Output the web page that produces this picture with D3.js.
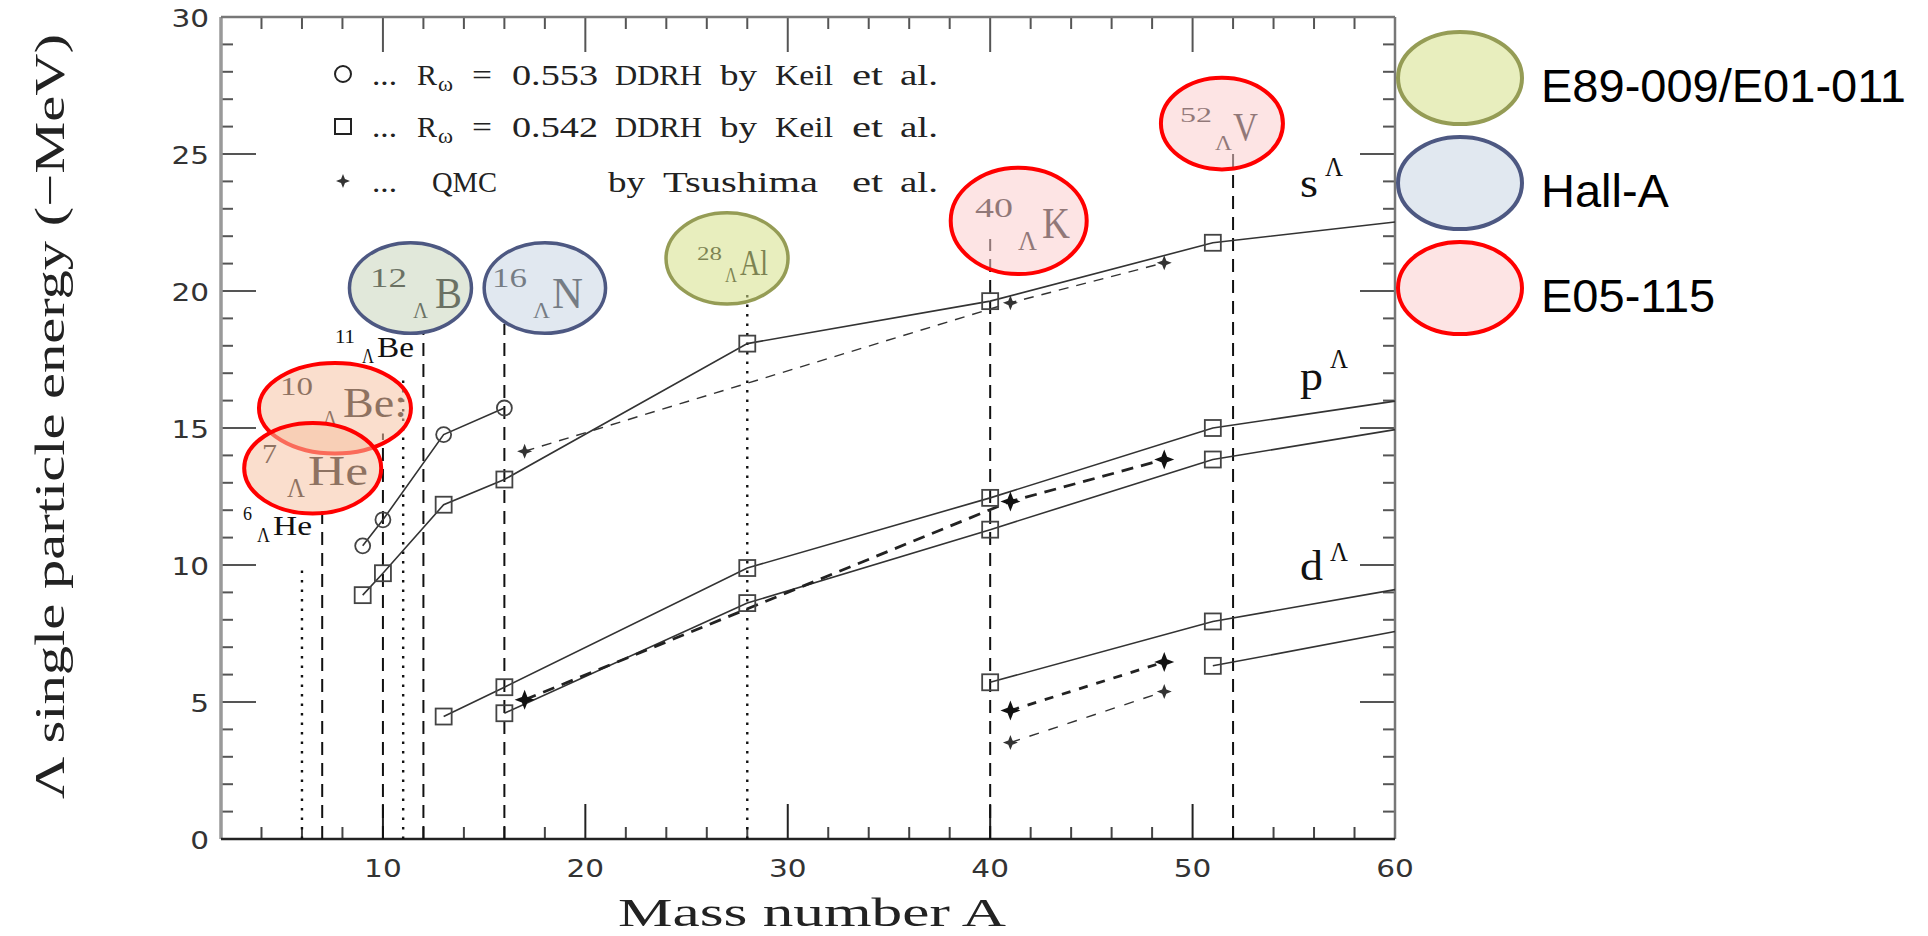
<!DOCTYPE html>
<html><head><meta charset="utf-8">
<script src="https://cdn.jsdelivr.net/npm/d3@7"></script>
<style>body{margin:0;background:#fff}</style>
</head><body><svg id="c" width="1928" height="936"></svg>
<script>
// ================= DATA =================
const xTickLabels = [10, 20, 30, 40, 50, 60];
const yTickLabels = [0, 5, 10, 15, 20, 25, 30];
// DDRH, R_w = 0.553 (circles), s-state
const circS = [[9, 10.7], [10, 11.65], [13, 14.76], [16, 15.73]];
// DDRH, R_w = 0.542 (squares); A=60 entries are line continuations to the frame
const sqS  = [[9, 8.9], [10, 9.7], [13, 12.2], [16, 13.12], [28, 18.08], [40, 19.63], [51, 21.76], [60, 22.52]];
const sqP1 = [[13, 4.47], [16, 5.54], [28, 9.89], [40, 12.45], [51, 15.0], [60, 15.98]];
const sqP2 = [[16, 4.59], [28, 8.61], [40, 11.29], [51, 13.85], [60, 14.94]];
const sqD1 = [[40, 5.72], [51, 7.94], [60, 9.1]];
const sqD2 = [[51, 6.32], [60, 7.57]];
// QMC by Tsushima et al. (stars)
const qmcS  = [[17, 14.15], [41, 19.57], [48.6, 21.03]];
const qmcP  = [[17, 5.08], [41, 12.32], [48.6, 13.85]];
const qmcD1 = [[41, 4.69], [48.6, 6.46]];
const qmcD2 = [[41, 3.52], [48.6, 5.38]];
// vertical reference lines for hypernuclei
const refA     = [6, 7, 10, 11, 12, 16, 28, 40, 52];
const refTop   = [9.9, 12.0, 14.8, 16.8, 18.5, 18.8, 20.0, 21.9, 25.0];
const refStyle = ["dot", "dash", "dash", "dot", "dash", "dash", "dot", "dash", "dash"];
// experiment highlight ellipses (centre in A / energy units)
const hlA   = [7.63, 6.53, 11.36, 18.0, 27.0, 41.41, 51.45];
const hlE   = [15.72, 13.53, 20.11, 20.11, 21.19, 22.56, 26.11];
const hlExp = [2, 2, 1, 1, 0, 2, 2];
const expNames = ["E89-009/E01-011", "Hall-A", "E05-115"];
const legendRow1 = ["...", "R", "ω", "=", "0.553", "DDRH", "by", "Keil", "et", "al."];
const legendRow2 = ["...", "R", "ω", "=", "0.542", "DDRH", "by", "Keil", "et", "al."];
const legendRow3 = ["...", "QMC", "by", "Tsushima", "et", "al."];

// ================= STYLE / LAYOUT =================
const expFill   = ["rgba(213,224,137,0.55)", "rgba(200,213,228,0.55)", "rgba(251,206,206,0.55)"];
const expStroke = ["#959c55", "#4d5882", "#ff0000"];
const hlFillOverride = {0: "rgba(246,195,164,0.55)", 1: "rgba(246,195,164,0.55)", 2: "rgba(196,210,182,0.5)"};
const hlRx = [76, 68.5, 61, 60.7, 61, 68, 61];
const hlRy = [45.3, 45.3, 45.3, 45.3, 45.7, 53.2, 45.8];

const svg = d3.select("#c");
svg.append("rect").attr("width", 1928).attr("height", 936).attr("fill", "#fff");
const x = d3.scaleLinear().domain([2, 60]).range([221, 1395]);
const y = d3.scaleLinear().domain([0, 30]).range([839, 17]);
const SERIF = "'Liberation Serif', 'DejaVu Serif', serif";
const SANS = "'DejaVu Sans', sans-serif";

function txt(g, s, x0, x1, base, size, fam, fill) {
  return g.append("text").attr("x", x0).attr("y", base)
    .attr("font-family", fam || SERIF).attr("font-size", size)
    .attr("fill", fill || "#111")
    .attr("textLength", x1 - x0).attr("lengthAdjust", "spacingAndGlyphs").text(s);
}

// ---- ticks (inward on all four sides) ----
const gT = svg.append("g").attr("stroke", "#555").attr("stroke-width", 2);
d3.range(4, 60, 2).forEach(a => {
  const major = a % 10 === 0;
  const L = major ? 35 : 12;
  gT.append("line").attr("x1", x(a)).attr("x2", x(a)).attr("y1", y(0)).attr("y2", y(0) - L).attr("stroke", major ? "#222" : "#444");
  gT.append("line").attr("x1", x(a)).attr("x2", x(a)).attr("y1", y(30)).attr("y2", y(30) + L);
});
d3.range(1, 30, 1).forEach(v => {
  const major = v % 5 === 0;
  const L = major ? 35 : 12;
  gT.append("line").attr("x1", x(2)).attr("x2", x(2) + L).attr("y1", y(v)).attr("y2", y(v));
  gT.append("line").attr("x1", x(60)).attr("x2", x(60) - L).attr("y1", y(v)).attr("y2", y(v));
});
// frame
svg.append("line").attr("x1", x(2)).attr("x2", x(2)).attr("y1", y(0)).attr("y2", y(30)).attr("stroke", "#999").attr("stroke-width", 3.5);
svg.append("line").attr("x1", x(2)).attr("x2", x(60)).attr("y1", y(30)).attr("y2", y(30)).attr("stroke", "#777").attr("stroke-width", 2.5);
svg.append("line").attr("x1", x(60)).attr("x2", x(60)).attr("y1", y(0)).attr("y2", y(30)).attr("stroke", "#777").attr("stroke-width", 2.5);
svg.append("line").attr("x1", x(2)).attr("x2", x(60)).attr("y1", y(0)).attr("y2", y(0)).attr("stroke", "#222").attr("stroke-width", 2.5);

// tick labels
yTickLabels.forEach(v => {
  const s = String(v);
  svg.append("text").attr("x", 209 - s.length * 18.8).attr("y", y(v) + 9.5)
    .attr("font-family", SANS).attr("font-size", 25).attr("fill", "#333")
    .attr("textLength", s.length * 18.8).attr("lengthAdjust", "spacingAndGlyphs").text(s);
});
xTickLabels.forEach(v => {
  const s = String(v);
  svg.append("text").attr("x", x(v) - s.length * 9.4).attr("y", 877)
    .attr("font-family", SANS).attr("font-size", 25).attr("fill", "#333")
    .attr("textLength", s.length * 18.8).attr("lengthAdjust", "spacingAndGlyphs").text(s);
});

// axis titles
txt(svg, "Mass number A", 618, 1006, 926, 40, SERIF, "#222");
svg.append("text").attr("transform", "translate(64,799) rotate(-90)")
  .attr("font-family", SERIF).attr("font-size", 42).attr("fill", "#222")
  .attr("textLength", 765).attr("lengthAdjust", "spacingAndGlyphs")
  .text("Λ single particle energy (−MeV)");

// ---- reference lines ----
refA.forEach((a, i) => {
  svg.append("line").attr("x1", x(a)).attr("x2", x(a)).attr("y1", y(0)).attr("y2", y(refTop[i]))
    .attr("stroke", "#111").attr("stroke-width", refStyle[i] === "dot" ? 2.4 : 2)
    .attr("stroke-dasharray", refStyle[i] === "dot" ? "2.5,7" : "13,8");
});

// ---- series lines ----
const line = d3.line().x(d => x(d[0])).y(d => y(d[1]));
const gL = svg.append("g").attr("fill", "none").attr("stroke", "#333");
[circS, sqS, sqP1, sqP2, sqD1, sqD2].forEach(s => gL.append("path").attr("d", line(s)).attr("stroke-width", 1.6));
gL.append("path").attr("d", line(qmcS)).attr("stroke-width", 1.4).attr("stroke-dasharray", "10,8");
gL.append("path").attr("d", line(qmcP)).attr("stroke-width", 2.8).attr("stroke-dasharray", "12,8").attr("stroke", "#222");
gL.append("path").attr("d", line(qmcD1)).attr("stroke-width", 2.8).attr("stroke-dasharray", "9,9").attr("stroke", "#222");
gL.append("path").attr("d", line(qmcD2)).attr("stroke-width", 1.4).attr("stroke-dasharray", "10,10");

// ---- markers ----
function starPath(s) {
  const w = s * 0.28;
  return `M0,${-s}L${w},${-w}L${s},0L${w},${w}L0,${s}L${-w},${w}L${-s},0L${-w},${-w}Z`;
}
const gM = svg.append("g");
circS.forEach(d => gM.append("circle").attr("cx", x(d[0])).attr("cy", y(d[1])).attr("r", 7.5)
  .attr("fill", "none").attr("stroke", "#444").attr("stroke-width", 1.8));
[sqS, sqP1, sqP2, sqD1, sqD2].forEach(s => s.filter(d => d[0] < 60).forEach(d =>
  gM.append("rect").attr("x", x(d[0]) - 8).attr("y", y(d[1]) - 8).attr("width", 16).attr("height", 16)
    .attr("fill", "none").attr("stroke", "#444").attr("stroke-width", 1.8)));
[qmcS, qmcD2].forEach(s => s.forEach(d =>
  gM.append("path").attr("d", starPath(7.5)).attr("transform", `translate(${x(d[0])},${y(d[1])})`).attr("fill", "#333")));
[qmcP, qmcD1].forEach(s => s.forEach(d =>
  gM.append("path").attr("d", starPath(10)).attr("transform", `translate(${x(d[0])},${y(d[1])})`).attr("fill", "#111")));

// ---- in-plot legend ----
const gLeg = svg.append("g");
gLeg.append("circle").attr("cx", 343).attr("cy", 74).attr("r", 8).attr("fill", "none").attr("stroke", "#222").attr("stroke-width", 2);
gLeg.append("rect").attr("x", 335).attr("y", 119).attr("width", 16).attr("height", 15).attr("fill", "none").attr("stroke", "#222").attr("stroke-width", 2);
gLeg.append("path").attr("d", starPath(7)).attr("transform", "translate(343,181)").attr("fill", "#333");
const seg12 = [[372, 397], [417, 437], [438, 453], [472, 492], [512, 598], [615, 702], [720, 757], [775, 833], [852, 883], [900, 938]];
[[legendRow1, 85], [legendRow2, 137]].forEach(([row, b]) => {
  row.forEach((w, i) => {
    if (w === "ω") txt(gLeg, w, seg12[i][0], seg12[i][1], b + 6, 20, SERIF, "#222");
    else txt(gLeg, w, seg12[i][0], seg12[i][1], b, 30, SERIF, "#222");
  });
});
const seg3 = [[372, 397], [432, 497], [608, 645], [663, 818], [852, 883], [900, 938]];
legendRow3.forEach((w, i) => txt(gLeg, w, seg3[i][0], seg3[i][1], 192, 30, SERIF, "#222"));

// ---- hypernucleus labels ----
const labels = [
  ["6", 243, 252, 520, 18], ["Λ", 257, 270, 542, 20], ["He", 273, 312, 535, 27],
  ["11", 335, 355, 343, 18], ["Λ", 362, 374, 363, 20], ["Be", 377, 414, 357, 29],
  ["10", 280, 313, 395, 26], ["Λ", 323, 337, 425, 22], ["Be:", 343, 407, 417, 42],
  ["7", 262, 277, 463, 28], ["Λ", 287, 305, 497, 28], ["He", 308, 368, 485, 42],
  ["12", 370, 407, 287, 28], ["Λ", 413, 428, 318, 24], ["B", 435, 462, 308, 45],
  ["16", 492, 527, 287, 28], ["Λ", 533, 550, 318, 24], ["N", 552, 583, 308, 45],
  ["28", 697, 722, 260, 18], ["Λ", 725, 737, 282, 20], ["Al", 740, 768, 275, 36],
  ["40", 975, 1013, 217, 28], ["Λ", 1018, 1037, 250, 28], ["K", 1042, 1070, 238, 45],
  ["52", 1180, 1212, 122, 20], ["Λ", 1215, 1232, 150, 22], ["V", 1233, 1258, 140, 40],
  ["s", 1300, 1318, 197, 42], ["Λ", 1325, 1343, 176, 28],
  ["p", 1300, 1323, 390, 42], ["Λ", 1330, 1348, 368, 28],
  ["d", 1300, 1323, 580, 42], ["Λ", 1330, 1348, 561, 28]
];
labels.forEach(l => txt(svg, l[0], l[1], l[2], l[3], l[4], SERIF, "#111"));

// ---- highlight ellipses (semi-transparent, over the labels) ----
hlA.forEach((a, i) => {
  svg.append("ellipse").attr("cx", x(a)).attr("cy", y(hlE[i])).attr("rx", hlRx[i]).attr("ry", hlRy[i])
    .attr("fill", hlFillOverride[i] || expFill[hlExp[i]])
    .attr("stroke", expStroke[hlExp[i]]).attr("stroke-width", hlExp[i] === 2 ? 4 : 3.5);
});

// ---- experiment legend (right) ----
expNames.forEach((n, i) => {
  const cy = 78 + i * 105;
  svg.append("ellipse").attr("cx", 1460).attr("cy", cy).attr("rx", 62).attr("ry", 46)
    .attr("fill", expFill[i]).attr("stroke", expStroke[i]).attr("stroke-width", 4);
  svg.append("text").attr("x", 1541).attr("y", cy + 24)
    .attr("font-family", "'Liberation Sans', Arial, sans-serif").attr("font-size", 47).attr("fill", "#000").text(n);
});
</script></body></html>
